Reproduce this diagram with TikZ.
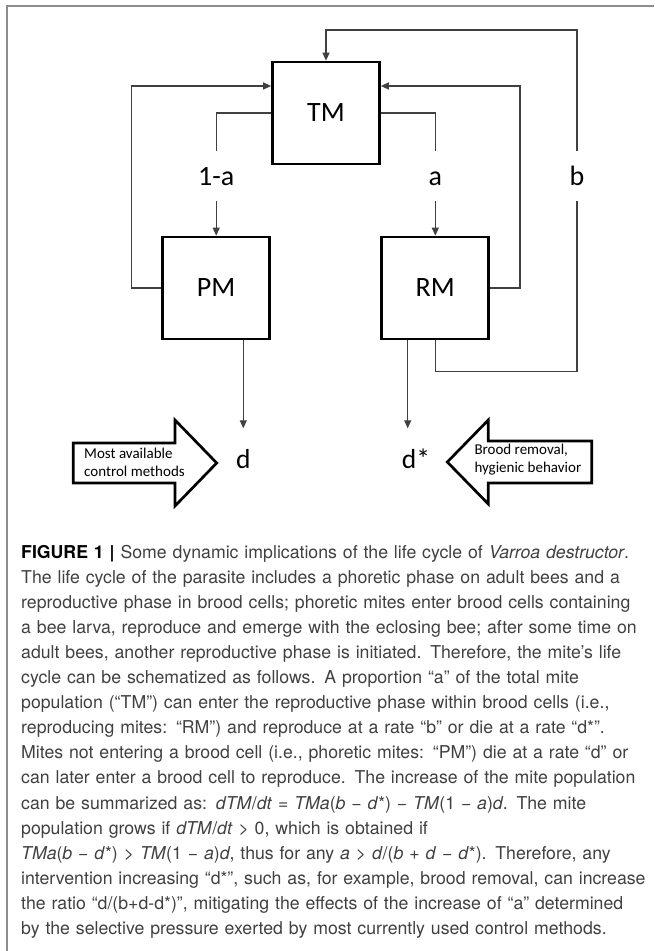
\documentclass[tikz,border=0pt]{standalone}
\usepackage{fontspec}
\setmainfont{TeX Gyre Heros}
\newfontfamily\calibri{Carlito}
\usetikzlibrary{arrows.meta}
\newcommand{\capline}[1]{\mbox{#1}\\}
\begin{document}
\begin{tikzpicture}[x=1pt,y=-1pt,
  mbox/.style={draw=black,line width=2.7pt,minimum width=107pt,minimum height=102pt,inner sep=0pt,
    font=\calibri\fontsize{28}{32}\selectfont},
  conn/.style={draw=black!75,line width=1.2pt},
  arr/.style={conn,-{Triangle[length=8pt,width=7pt]}},
  lbl/.style={font=\calibri\fontsize{28}{32}\selectfont,inner sep=0pt,minimum height=50pt,
    text height=18pt,text depth=0pt},
  dlbl/.style={font=\calibri\fontsize{27.5}{32}\selectfont,inner xsep=0pt,inner ysep=23pt,
    text height=17pt,text depth=0pt},
  blk/.style={draw=black,line width=2.7pt,line join=miter,fill=white},
  btxt/.style={font=\calibri\fontsize{15}{18.5}\selectfont,align=left,inner sep=0pt,anchor=west},
  frameline/.style={draw=black!45,line width=1.3pt},
  captxt/.style={font=\fontsize{17.7}{25.1}\selectfont,text width=628pt,align=left,inner sep=0pt,
    anchor=base west,text=black!75}
]
\useasboundingbox (0,0) rectangle (654,951);

% outer frame (top and left edges visible)
\draw[frameline] (654,6) -- (7,6) -- (7,951);

% boxes
\node[mbox] (TM) at (326,113) {TM};
\node[mbox] (PM) at (216.2,288) {PM};
\node[mbox] (RM) at (435.3,288) {RM};

% rate labels
\node[lbl] (l1a) at (216.2,176) {1-a};
\node[lbl] (la)  at (435.3,176) {a};
\node[lbl] (lb)  at (577,176) {b};

% death rate labels
\node[dlbl] (d)  at (243.3,460) {d};
\node[dlbl] (ds) at (416,460) {d*};

% helper coordinates
\coordinate (lin) at (131.7,86);
\coordinate (rin) at (520,86);
\coordinate (btop) at (577,30);
\coordinate (bbot) at (577,371.7);
\coordinate (rmx) at (407.7,0);

% connectors
\draw[conn] (TM.west) -| (l1a.north);
\draw[arr] (l1a.south) -- (PM.north);
\draw[conn] (TM.east) -| (la.north);
\draw[arr] (la.south) -- (RM.north);
\draw[arr] (PM.west) -| (lin) -- (lin -| TM.west);
\draw[arr] (RM.east) -| (rin) -- (rin -| TM.east);
\draw[conn] (RM.south) |- (bbot) -- (lb.south);
\draw[arr] (lb.north) -- (btop) -| (TM.north);
\draw[arr] (PM.south -| d.north) -- (d.north);
\draw[arr] (RM.south -| rmx) -- (rmx |- ds.north);

% block arrows
\draw[blk] (73.3,443) -- (175,443) -- (175,420) -- (216.7,463) -- (175,506) -- (175,483) -- (73.3,483) -- cycle;
\node[btxt] (t1) at (84,462.5) {Most available\\control methods};
\draw[blk] (591.7,441) -- (488.3,441) -- (488.3,420) -- (447.3,462) -- (488.3,504) -- (488.3,483) -- (591.7,483) -- cycle;
\node[btxt] (t2) at (474.3,459.5) {Brood removal,\\hygienic behavior};

% caption
\node[captxt] (caption) at (21,558) {%
\capline{{\color{black}\textbf{FIGURE 1 |}} Some dynamic implications of the life cycle of \textit{Varroa destructor}.}
\capline{The life cycle of the parasite includes a phoretic phase on adult bees and a}
\capline{reproductive phase in brood cells; phoretic mites enter brood cells containing}
\capline{a bee larva, reproduce and emerge with the eclosing bee; after some time on}
\capline{adult bees, another reproductive phase is initiated. Therefore, the mite’s life}
\capline{cycle can be schematized as follows. A proportion “a” of the total mite}
\capline{population (“TM”) can enter the reproductive phase within brood cells (i.e.,}
\capline{reproducing mites: “RM”) and reproduce at a rate “b” or die at a rate “d*”.}
\capline{Mites not entering a brood cell (i.e., phoretic mites: “PM”) die at a rate “d” or}
\capline{can later enter a brood cell to reproduce. The increase of the mite population}
\capline{can be summarized as: \textit{dTM}/\textit{dt} = \textit{TMa}(\textit{b} − \textit{d}*) − \textit{TM}(1 − \textit{a})\textit{d}. The mite}
\capline{population grows if \textit{dTM}/\textit{dt} > 0, which is obtained if}
\capline{\textit{TMa}(\textit{b} − \textit{d}*) > \textit{TM}(1 − \textit{a})\textit{d}, thus for any \textit{a} > \textit{d}/(\textit{b} + \textit{d} − \textit{d}*). Therefore, any}
\capline{intervention increasing “d*”, such as, for example, brood removal, can increase}
\capline{the ratio “d/(b+d-d*)”, mitigating the effects of the increase of “a” determined}
\mbox{by the selective pressure exerted by most currently used control methods.}};
\end{tikzpicture}
\end{document}
